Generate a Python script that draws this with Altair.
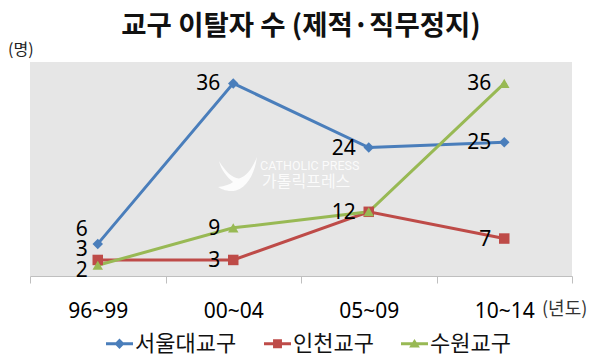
import altair as alt
import pandas as pd

periods = ["96~99", "00~04", "05~09", "10~14"]
series_names = ["서울대교구", "인천교구", "수원교구"]
seoul = [6, 36, 24, 25]
incheon = [3, 3, 12, 7]
suwon = [2, 9, 12, 36]

colors = ["#4A7EBB", "#BE4B48", "#98B954"]
marker_shapes = ["diamond", "square", "triangle-up"]
legend_paths = [
    "M-1,-0.11H1V0.11H-1Z M0,-0.38L0.38,0L0,0.38L-0.38,0Z",
    "M-1,-0.11H1V0.11H-1Z M-0.33,-0.33H0.33V0.33H-0.33Z",
    "M-1,-0.11H1V0.11H-1Z M0,-0.36L0.4,0.28H-0.4Z",
]
bird_path = ("M-0.95,-0.75 C-0.6,-0.2 -0.3,0.1 0.05,0.12 C0.4,0.05 0.7,-0.35 0.95,-0.95 "
             "C0.85,-0.2 0.5,0.55 -0.1,0.72 C-0.5,0.82 -0.85,0.65 -1,0.55 "
             "C-0.65,0.5 -0.4,0.42 -0.25,0.3 C-0.55,0.05 -0.85,-0.3 -0.95,-0.75Z")
first_label_dy = [-14, -10, 6]

title_text = "교구 이탈자 수 (제적·직무정지)"
y_unit = "(명)"
x_unit = "(년도)"
watermark_en = "CATHOLIC PRESS"
watermark_kr = "가톨릭프레스"

rows = []
for name, vals in zip(series_names, [seoul, incheon, suwon]):
    for p, v in zip(periods, vals):
        rows.append({"period": p, "series": name, "value": v})
df = pd.DataFrame(rows)

KR = "Noto Sans CJK KR"
NUM = "Noto Sans"

x_enc = alt.X(
    "period:N",
    sort=periods,
    bandPosition=0.5,
    scale=alt.Scale(type="band", domain=periods, paddingInner=0, paddingOuter=0),
    axis=alt.Axis(title=None, tickBand="extent", labelAngle=0),
)
y_enc = alt.Y("value:Q", scale=alt.Scale(domain=[0, 40], nice=False), axis=None)
color_scale = alt.Scale(domain=series_names, range=colors)

legend_def = alt.Legend(
    orient="none", legendX=76, legendY=268, direction="horizontal", title=None,
    symbolSize=729, symbolStrokeWidth=0, labelFont=KR, labelFontSize=22,
    labelColor="#111", columnPadding=27, labelOffset=2,
)

base = alt.Chart(df)

lines = base.mark_line(strokeWidth=3).encode(
    x=x_enc, y=y_enc,
    color=alt.Color("series:N", scale=color_scale, legend=legend_def),
    shape=alt.Shape("series:N", scale=alt.Scale(domain=series_names, range=legend_paths), legend=legend_def),
)

point_layers = []
for name, shp in zip(series_names, marker_shapes):
    point_layers.append(
        base.transform_filter(alt.datum.series == name)
        .mark_point(filled=True, opacity=1, size=110, shape=shp)
        .encode(x=x_enc, y=y_enc, color=alt.Color("series:N", scale=color_scale, legend=legend_def))
    )

labels_src = base.transform_window(
    rank="row_number()", groupby=["period", "value"]
).transform_filter("datum.rank == 1")

main_labels = labels_src.transform_filter(alt.datum.period != periods[0]).mark_text(
    align="right", baseline="middle", dx=-13, dy=1, font=NUM, fontSize=21, color="#000"
).encode(x=x_enc, y=y_enc, text="value:Q")

first_labels = []
for name, dy in zip(series_names, first_label_dy):
    first_labels.append(
        labels_src.transform_filter((alt.datum.period == periods[0]) & (alt.datum.series == name))
        .mark_text(align="right", baseline="middle", dx=-10, dy=dy, font=NUM, fontSize=21, color="#000")
        .encode(x=x_enc, y=y_enc, text="value:Q")
    )

ann = pd.DataFrame({"t": [0]})
y_unit_txt = alt.Chart(ann).mark_text(
    text=y_unit, align="left", baseline="middle", font=KR, fontSize=16, color="#222"
).encode(x=alt.value(-22), y=alt.value(-12))
x_unit_txt = alt.Chart(ann).mark_text(
    text=x_unit, align="left", baseline="middle", font=KR, fontSize=18, color="#333"
).encode(x=alt.value(512), y=alt.value(248))
wm1 = alt.Chart(ann).mark_text(
    text=watermark_en, align="left", baseline="middle", font="Roboto", fontSize=12.5, color="#ffffff", opacity=0.85
).encode(x=alt.value(230), y=alt.value(104))
wm2 = alt.Chart(ann).mark_text(
    text=watermark_kr, align="left", baseline="middle", font=KR, fontSize=16, color="#ffffff", opacity=0.85
).encode(x=alt.value(232), y=alt.value(120))
bird = alt.Chart(ann).mark_point(
    shape=bird_path, filled=True, color="#ffffff", opacity=0.85, size=1600, strokeWidth=0
).encode(x=alt.value(208), y=alt.value(114))

chart = alt.layer(
    bird, wm1, wm2, lines, *point_layers, main_labels, *first_labels, y_unit_txt, x_unit_txt
).properties(
    width=542,
    height=214,
    title=alt.Title(title_text, font=KR, fontSize=27.5, fontWeight="bold", color="#111",
                    anchor="middle", frame="group", offset=2),
    autosize=alt.AutoSizeParams(type="none"),
    padding={"left": 22, "top": 54, "right": 20, "bottom": 79},
).configure_view(
    fill="#E6E6E6", stroke=None
).configure_axis(
    labelFont=NUM, labelFontSize=21, labelColor="#000", domainColor="#BFBFBF",
    tickColor="#BFBFBF", tickSize=7, labelPadding=17, grid=False,
)

chart.save("out.html", embed_options={"renderer": "svg", "actions": False})
